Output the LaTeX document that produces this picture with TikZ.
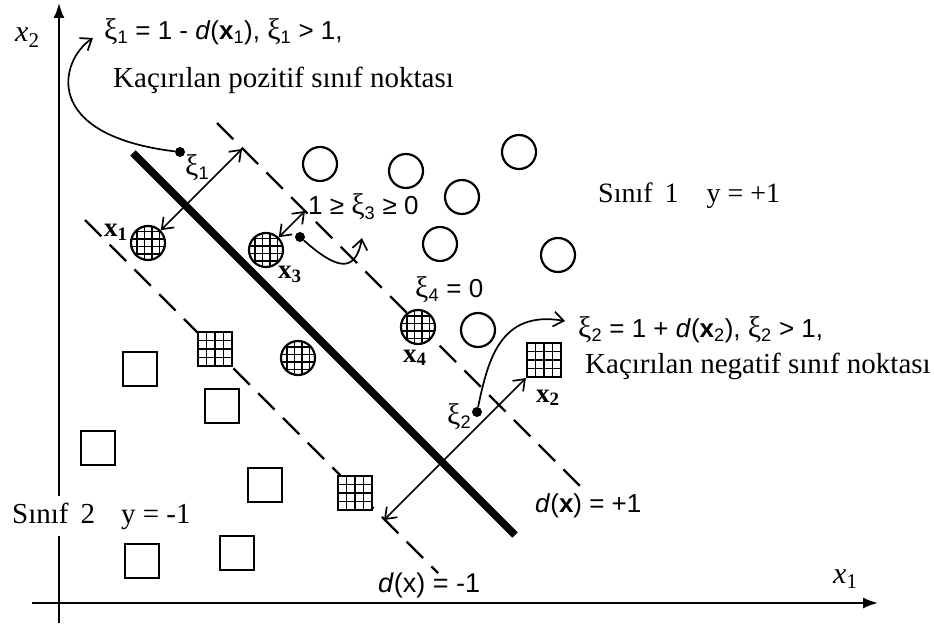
\documentclass[tikz,border=0pt]{standalone}
\usepackage{fontspec}
\setmainfont{Liberation Serif}
\setsansfont{Liberation Sans}
\usetikzlibrary{arrows.meta}
\newcommand\gx{{\rmfamily\fontsize{1.15em}{1em}\selectfont ξ}}
\tikzset{
  ax/.style={line width=2pt,-{Latex[length=15pt,width=11pt]}},
  thickln/.style={line width=7.5pt},
  dashln/.style={line width=2.4pt,dash pattern=on 23pt off 12pt},
  opencirc/.style={circle,draw,line width=2.2pt,minimum size=34pt,inner sep=0pt,fill=white},
  opensq/.style={rectangle,draw,line width=2.2pt,minimum size=34pt,inner sep=0pt,fill=white},
  hcirc/.style={opencirc,path picture={
     \foreach \o in {-11.25,-3.75,3.75,11.25}{
       \draw[line width=1.5pt] ([xshift=\o pt]path picture bounding box.south) -- ([xshift=\o pt]path picture bounding box.north);
       \draw[line width=1.5pt] ([yshift=\o pt]path picture bounding box.west) -- ([yshift=\o pt]path picture bounding box.east);}}},
  hsq/.style={opensq,path picture={
     \foreach \o in {-8.5,0,8.5}{
       \draw[line width=1.5pt] ([xshift=\o pt]path picture bounding box.south) -- ([xshift=\o pt]path picture bounding box.north);
       \draw[line width=1.5pt] ([yshift=\o pt]path picture bounding box.west) -- ([yshift=\o pt]path picture bounding box.east);}}},
  dbl/.style={{Straight Barb[length=10pt,width=15pt]}-{Straight Barb[length=10pt,width=15pt]},line width=1.7pt},
  cur/.style={-{Straight Barb[length=10pt,width=15pt]},line width=1.7pt},
  dot/.style={circle,fill,inner sep=0pt,minimum size=10pt},
  sflab/.style={font=\sffamily\fontsize{26}{30}\selectfont,inner sep=0pt,anchor=base west},
  serlab/.style={font=\fontsize{29}{33}\selectfont,inner sep=0pt,anchor=base west},
  ptlab/.style={font=\bfseries\fontsize{27}{31}\selectfont,inner sep=0pt,anchor=base west},
  axlab/.style={font=\fontsize{30}{34}\selectfont,inner sep=0pt,anchor=base west},
}
\begin{document}
\begin{tikzpicture}[x=1pt,y=-1pt]
\useasboundingbox (0,0) rectangle (934,628);
% axes
\coordinate (ybot) at (59,623);
\coordinate (ytop) at (59,3);
\coordinate (xleft) at (32,603);
\coordinate (xright) at (878,603);
\draw[ax] (ybot) -- (ytop);
\draw[ax] (xleft) -- (xright);
\node[axlab] (lx2) at (15,42) {\textit{x}\textsubscript{2}};
\node[axlab] (lx1) at (833,583) {\textit{x}\textsubscript{1}};
% separating lines
\coordinate (ua) at (217,123); \coordinate (ub) at (588,494);
\coordinate (la) at (85,220);  \coordinate (lb) at (438,573);
\coordinate (ma) at (133,153); \coordinate (mb) at (515,535);
\draw[dashln] (ua) -- (ub);
\draw[dashln] (la) -- (lb);
\draw[thickln] (ma) -- (mb);
% class 1 circles
\node[opencirc] (c1) at (320,164) {};
\node[opencirc] (c2) at (406,171) {};
\node[opencirc] (c3) at (519,152) {};
\node[opencirc] (c4) at (462,197) {};
\node[opencirc] (c5) at (440,244) {};
\node[opencirc] (c6) at (558,255) {};
\node[opencirc] (c7) at (478,330) {};
% hatched circles
\node[hcirc] (x1) at (148,243) {};
\node[hcirc] (x3) at (266,250) {};
\node[hcirc] (x4) at (418,327) {};
\node[hcirc] (h5) at (298,358) {};
% class 2 squares
\node[opensq] (s1) at (140,369) {};
\node[opensq] (s2) at (222,406) {};
\node[opensq] (s3) at (98,448) {};
\node[opensq] (s4) at (265,485) {};
\node[opensq] (s5) at (142,561) {};
\node[opensq] (s6) at (237,553) {};
% hatched squares
\node[hsq] (q1) at (215,349) {};
\node[hsq] (x2) at (544,360) {};
\node[hsq] (q3) at (355,493) {};
% margin arrows
\coordinate (m1) at (242,149);
\coordinate (m3) at (305,211);
\coordinate (m2) at (384,520);
\draw[dbl] (x1.45) -- (m1);
\draw[dbl] (x3.45) -- (m3);
\draw[dbl] (m2) -- (x2.south west);
% dots and curved arrows
\node[dot] (d1) at (180,152) {};
\node[dot] (d3) at (300,237) {};
\node[dot] (d2) at (477,412) {};
\coordinate (e1) at (93,38);
\coordinate (e3) at (362,238);
\coordinate (e2) at (565,321);
\draw[cur] (d1) .. controls (40,135) and (60,60) .. (e1);
\draw[cur] (d3) .. controls (335,268) and (355,275) .. (e3);
\draw[cur] (d2) .. controls (488,360) and (500,310) .. (e2);
% labels
\node[sflab] (t1) at (104,40) {\gx\textsubscript{1} = 1 - \textit{d}(\textbf{x}\textsubscript{1}), \gx\textsubscript{1} > 1,};
\node[serlab] (t1b) at (113,88) {Kaçırılan pozitif sınıf noktası};
\node[sflab] (t2) at (578,337) {\gx\textsubscript{2} = 1 + \textit{d}(\textbf{x}\textsubscript{2}), \gx\textsubscript{2} > 1,};
\node[serlab] (t2b) at (585,373) {Kaçırılan negatif sınıf noktası};
\node[sflab] (t3) at (308,215) {1 ≥ \gx\textsubscript{3} ≥ 0};
\node[sflab] (t4) at (415,298) {\gx\textsubscript{4} = 0};
\node[sflab] (k1) at (185,176) {\gx\textsubscript{1}};
\node[sflab] (k2) at (447,424) {\gx\textsubscript{2}};
\node[sflab] (dp) at (535,512) {\textit{d}(\textbf{x}) = +1};
\node[sflab,font=\sffamily\fontsize{27}{31}\selectfont] (dm) at (378,592) {\textit{d}(x) = -1};
\node[ptlab] (lx1p) at (104,237) {x\textsubscript{1}};
\node[ptlab] (lx3p) at (278,279) {x\textsubscript{3}};
\node[ptlab] (lx4p) at (403,362) {x\textsubscript{4}};
\node[ptlab] (lx2p) at (536,402) {x\textsubscript{2}};
\node[serlab,font=\fontsize{28}{32}\selectfont] (cl1) at (598,203) {Sınıf\hspace{12pt}1\hspace{28pt}y = +1};
\node[serlab,font=\fontsize{29}{33}\selectfont,fill=white,inner xsep=2pt,inner ysep=7pt] (cl2) at (10,523) {Sınıf\hspace{12pt}2\hspace{26pt}y = -1};
\end{tikzpicture}
\end{document}
